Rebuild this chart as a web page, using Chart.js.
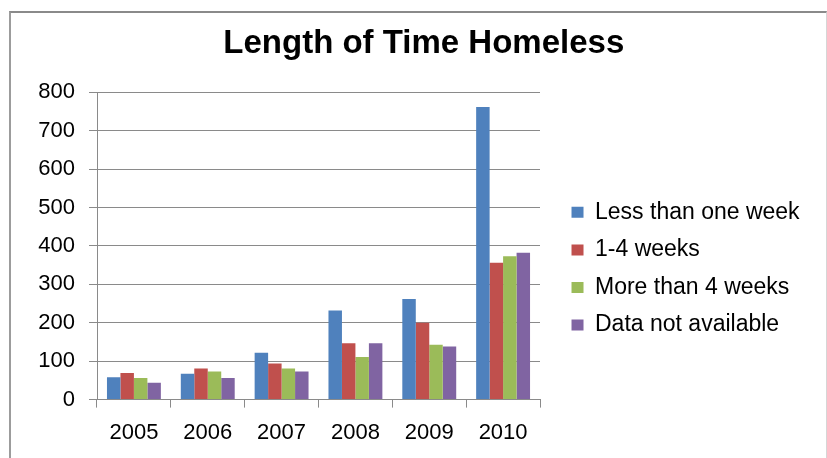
<!DOCTYPE html>
<html>
<head>
<meta charset="utf-8">
<title>Length of Time Homeless</title>
<script src="https://cdn.jsdelivr.net/npm/chart.js@4.4.0/dist/chart.umd.min.js"></script>
<style>
  html, body { margin: 0; padding: 0; background: #fff; }
  #frame {
    position: absolute; left: 9px; top: 11px; width: 818px; height: 470px;
    box-sizing: border-box;
    border-top: 2px solid #8a8a8a;
    border-left: 2px solid #9c9c9c;
    border-right: 1px solid #d6d6d6;
  }
  #myChart { position: absolute; left: 0; top: 0; }
</style>
</head>
<body>
<div id="frame"></div>
<canvas id="myChart" width="827" height="458"></canvas>
<script>
const years = ['2005', '2006', '2007', '2008', '2009', '2010']

const lessThanOneWeek = [58, 67, 122, 232, 262, 762]
const oneToFourWeeks = [69, 81, 94, 147, 200, 356]
const moreThanFourWeeks = [56, 73, 81, 111, 143, 373]
const dataNotAvailable = [44, 56, 73, 147, 138, 382]

const yTicks = [0, 100, 200, 300, 400, 500, 600, 700, 800]

const font = "'Liberation Sans', Arial, sans-serif"
const gridColor = '#8a8a8a'

const ctx = document.getElementById('myChart').getContext('2d')

const chart = new Chart(ctx, {
  type: 'bar',
  data: {
    labels: years,
    datasets: [
      { label: 'Less than one week', backgroundColor: '#4F81BD', data: lessThanOneWeek },
      { label: '1-4 weeks', backgroundColor: '#C0504D', data: oneToFourWeeks },
      { label: 'More than 4 weeks', backgroundColor: '#9BBB59', data: moreThanFourWeeks },
      { label: 'Data not available', backgroundColor: '#8064A2', data: dataNotAvailable }
    ]
  },
  options: {
    responsive: false,
    animation: false,
    devicePixelRatio: 1,
    categoryPercentage: 0.73,
    barPercentage: 1,
    layout: {
      padding: { left: 38, right: 17.4, top: 12, bottom: 12 }
    },
    scales: {
      x: {
        grid: { display: true, drawOnChartArea: false, tickLength: 8, color: gridColor, offset: true },
        border: { color: gridColor },
        ticks: { color: '#000', padding: 12, font: { family: font, size: 22 } },
        afterFit: (scale) => { scale.height = 46.4 }
      },
      y: {
        min: yTicks[0],
        max: yTicks[yTicks.length - 1],
        afterBuildTicks: (scale) => { scale.ticks = yTicks.map((v) => ({ value: v })) },
        grid: { color: gridColor, tickLength: 8 },
        border: { color: gridColor },
        ticks: { color: '#000', padding: 14, font: { family: font, size: 22 } },
        afterFit: (scale) => { scale.width = 59 }
      },
      // empty axis, only keeps a gap between plot and legend
      gap: {
        position: 'right',
        grid: { display: false },
        border: { display: false },
        ticks: { display: false },
        afterFit: (scale) => { scale.width = 16.9 }
      }
    },
    plugins: {
      title: {
        display: true,
        text: 'Length of Time Homeless',
        color: '#000',
        font: { family: font, size: 33, weight: 'bold', lineHeight: 1.2 },
        padding: { top: 12.6, bottom: 28.1 }
      },
      legend: {
        position: 'right',
        maxWidth: 300,
        // blank title, pushes the items down to where the original has them
        title: { display: true, text: '', font: { size: 10, lineHeight: 7.94 } },
        labels: {
          color: '#000',
          boxWidth: 12,
          boxHeight: 11,
          padding: 14.6,
          font: { family: font, size: 23 }
        }
      },
      tooltip: { enabled: false }
    }
  }
})
</script>
</body>
</html>
